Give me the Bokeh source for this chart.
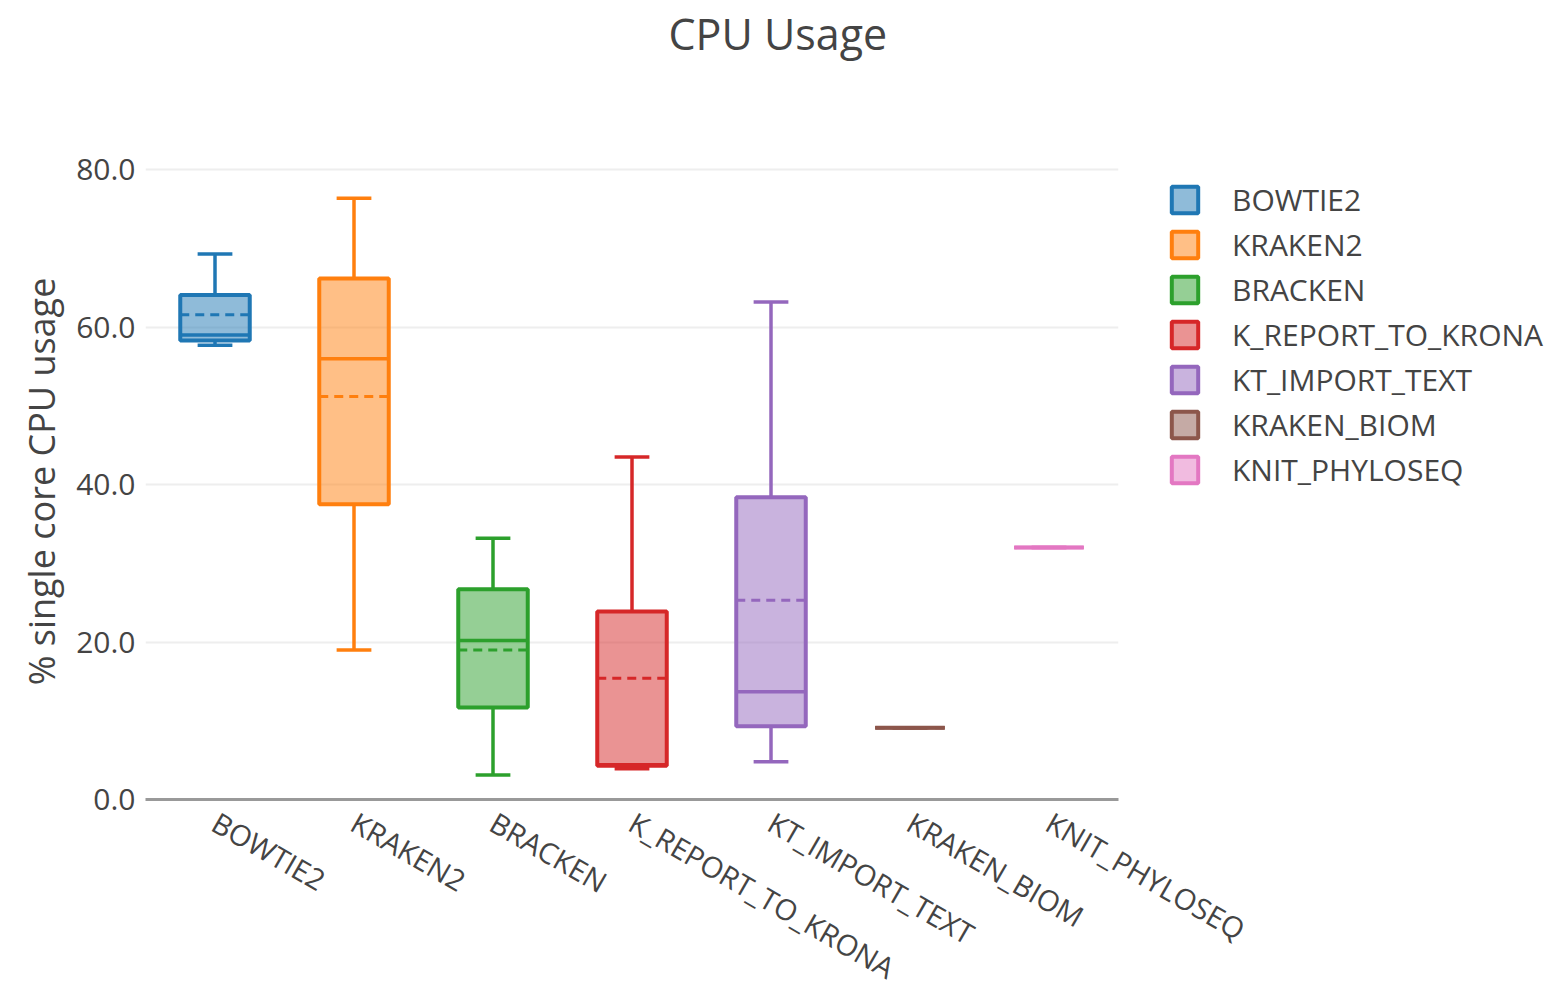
from math import pi
from bokeh.plotting import figure
from bokeh.models import (ColumnDataSource, FactorRange, Range1d, Legend, LegendItem,
                          Title, FixedTicker, NumeralTickFormatter)
from bokeh.transform import dodge
from bokeh.embed import file_html
from bokeh.resources import INLINE

categories = ["BOWTIE2", "KRAKEN2", "BRACKEN", "K_REPORT_TO_KRONA",
              "KT_IMPORT_TEXT", "KRAKEN_BIOM", "KNIT_PHYLOSEQ"]
lower_whisker = [57.7, 19.0, 3.1, 3.9, 4.8, 9.1, 32.0]
q1 = [58.3, 37.5, 11.7, 4.3, 9.3, 9.1, 32.0]
median = [59.0, 56.0, 20.2, 4.4, 13.7, 9.1, 32.0]
q3 = [64.1, 66.2, 26.7, 23.9, 38.4, 9.1, 32.0]
upper_whisker = [69.3, 76.4, 33.2, 43.5, 63.2, 9.1, 32.0]
mean = [61.6, 51.2, 19.0, 15.4, 25.3, 9.1, 32.0]
colors = ["#1f77b4", "#ff7f0e", "#2ca02c", "#d62728", "#9467bd", "#8c564b", "#e377c2"]
y_ticks = [0, 20, 40, 60, 80]

FONT = "Open Sans"
TEXT = "#444444"

src = ColumnDataSource(dict(cat=categories, lower=lower_whisker, q1=q1, median=median,
                            q3=q3, upper=upper_whisker, mean=mean, color=colors))

p = figure(x_range=FactorRange(*categories), y_range=Range1d(0, 80.8),
           frame_width=973, frame_height=636,
           min_border_left=145, min_border_right=431, min_border_top=163, min_border_bottom=0,
           output_backend="svg", toolbar_location=None, outline_line_color=None,
           background_fill_color="white", border_fill_color="white", title=None)

LW = 3.5
# whisker stems
p.segment(x0="cat", y0="q3", x1="cat", y1="upper", source=src, line_color="color", line_width=LW)
p.segment(x0="cat", y0="lower", x1="cat", y1="q1", source=src, line_color="color", line_width=LW)
# whisker caps
p.segment(x0=dodge("cat", -0.125, range=p.x_range), y0="upper",
          x1=dodge("cat", 0.125, range=p.x_range), y1="upper",
          source=src, line_color="color", line_width=LW)
p.segment(x0=dodge("cat", -0.125, range=p.x_range), y0="lower",
          x1=dodge("cat", 0.125, range=p.x_range), y1="lower",
          source=src, line_color="color", line_width=LW)
# boxes
boxes = p.vbar(x="cat", bottom="q1", top="q3", width=0.5, source=src,
               fill_color="color", fill_alpha=0.5, line_color="color", line_width=4)
# median
p.segment(x0=dodge("cat", -0.25, range=p.x_range), y0="median",
          x1=dodge("cat", 0.25, range=p.x_range), y1="median",
          source=src, line_color="color", line_width=LW)
# mean
p.segment(x0=dodge("cat", -0.25, range=p.x_range), y0="mean",
          x1=dodge("cat", 0.25, range=p.x_range), y1="mean",
          source=src, line_color="color", line_width=3, line_dash="9 6")

# axes
p.xgrid.grid_line_color = None
p.ygrid.grid_line_color = "#eeeeee"
p.ygrid.grid_line_width = 2
p.yaxis.ticker = FixedTicker(ticks=y_ticks)
p.yaxis.formatter = NumeralTickFormatter(format="0.0")
p.yaxis.axis_line_color = None
p.yaxis.major_tick_line_color = None
p.yaxis.minor_tick_line_color = None
p.yaxis.major_label_standoff = 4
p.yaxis.major_label_text_font = FONT
p.yaxis.major_label_text_font_size = "30px"
p.yaxis.major_label_text_color = TEXT
p.yaxis.axis_label = "% single core CPU usage"
p.yaxis.axis_label_text_font = FONT
p.yaxis.axis_label_text_font_size = "36px"
p.yaxis.axis_label_text_font_style = "normal"
p.yaxis.axis_label_text_color = TEXT
p.yaxis.axis_label_standoff = 7

p.xaxis.axis_line_color = "#999999"
p.xaxis.axis_line_width = 3
p.xaxis.major_tick_line_color = None
p.xaxis.minor_tick_line_color = None
p.xaxis.major_label_orientation = -pi / 6
p.xaxis.major_label_standoff = 14
p.xaxis.major_label_text_font = FONT
p.xaxis.major_label_text_font_size = "29px"
p.xaxis.major_label_text_color = TEXT

# spacer between title and plot area (added first: closest to the frame)
p.add_layout(Title(text=" ", text_font=FONT, text_font_size="10px", standoff=83), "above")
# title
p.add_layout(Title(text="CPU Usage", align="left", offset=523, text_font=FONT,
                   text_font_size="43px", text_font_style="normal", text_color=TEXT,
                   vertical_align="top", standoff=0), "above")

# legend
items = [LegendItem(label=c, renderers=[boxes], index=i) for i, c in enumerate(categories)]
legend = Legend(items=items, location=(50, 309.5), margin=0, padding=0,
                border_line_color=None, background_fill_alpha=0,
                glyph_width=33, glyph_height=33, label_height=40, spacing=4,
                label_standoff=31, label_text_font=FONT, label_text_font_size="30px",
                label_text_color=TEXT, label_text_baseline="middle")
p.add_layout(legend, "right")

open("out.html", "w").write(file_html(p, INLINE))
